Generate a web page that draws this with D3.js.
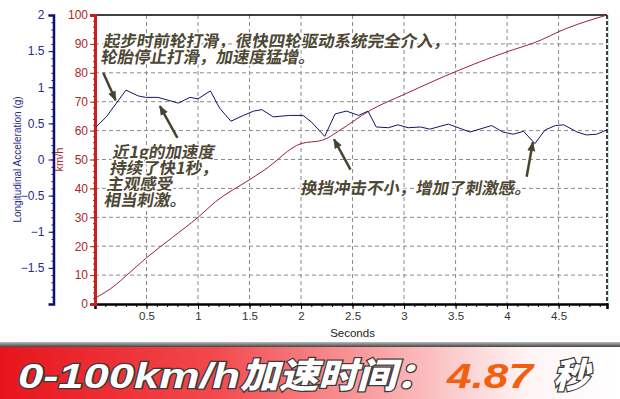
<!DOCTYPE html>
<html>
<head>
<meta charset="utf-8">
<script src="https://cdn.jsdelivr.net/npm/d3@7"></script>
<style>
  body { margin: 0; background: #fff; }
  svg { display: block; }
  .tick text { font-family: "Liberation Sans", Arial, sans-serif; font-size: 12px; }
  .note { font-family: "Noto Sans CJK SC", sans-serif; font-weight: 700; font-size: 16.5px;
          fill: #4d4733; stroke: #fff; stroke-width: 3px; paint-order: stroke; stroke-linejoin: round; }
</style>
</head>
<body>
<div id="chart"></div>
<script>
// speed curve (km/h) vs time (s)
const speedTime  = [0, 0.2, 0.3, 0.5, 0.75, 1.0, 1.17, 1.5, 1.65, 2.0, 2.21, 2.38, 2.67, 3.0, 3.54, 4.06, 4.25, 4.58, 4.97];
const speedValue = [2, 6.6, 9.7, 16, 23, 30, 35.4, 43, 46.5, 55.5, 56.7, 60.2, 67, 72.5, 81, 88, 90.2, 95.4, 100];

// longitudinal acceleration (g) vs time (s)
const accTime  = [0.01, 0.11, 0.30, 0.42, 0.49, 0.61, 0.81, 0.92, 1.0, 1.12, 1.21, 1.32, 1.44, 1.54, 1.62, 1.73, 1.89, 2.02, 2.10, 2.23, 2.33, 2.44, 2.56, 2.65, 2.73, 2.85, 2.94, 3.04, 3.16, 3.25, 3.43, 3.64, 3.85, 3.96, 4.06, 4.16, 4.27, 4.37, 4.47, 4.55, 4.68, 4.77, 4.87, 4.97];
const accValue = [0.45, 0.59, 0.96, 0.88, 0.86, 0.86, 0.78, 0.86, 0.84, 0.95, 0.71, 0.53, 0.61, 0.67, 0.69, 0.59, 0.61, 0.61, 0.52, 0.32, 0.63, 0.67, 0.61, 0.67, 0.45, 0.44, 0.48, 0.44, 0.45, 0.42, 0.49, 0.38, 0.47, 0.38, 0.35, 0.39, 0.22, 0.41, 0.47, 0.48, 0.38, 0.34, 0.35, 0.41];

const timeTicks  = [0.5, 1, 1.5, 2, 2.5, 3, 3.5, 4, 4.5];
const speedTicks = [0, 10, 20, 30, 40, 50, 60, 70, 80, 90, 100];
const accTicks   = [-1.5, -1, -0.5, 0, 0.5, 1, 1.5, 2];

const notes = [
  { x: 103, y: 47, lines: ["起步时前轮打滑，很快四轮驱动系统完全介入，", "轮胎停止打滑，加速度猛增。"] },
  { x: 112, y: 158, lines: ["近1g的加速度", "持续了快1秒，", "主观感受", "相当刺激。"] },
  { x: 300, y: 194, lines: ["换挡冲击不小，增加了刺激感。"] }
];
// arrows in [time, km/h] coordinates: tail -> head
const arrows = [
  [[0.08, 80], [0.2, 70.5]],
  [[0.8, 57.5], [0.63, 68.5]],
  [[2.48, 46.5], [2.32, 57]],
  [[4.19, 44], [4.25, 56]]
];

const width = 620, height = 399;
const plotL = 95, plotR = 607, plotT = 15, plotB = 304;

const svg = d3.select("#chart").append("svg")
  .attr("width", width).attr("height", height);

const x = d3.scaleLinear().domain([0, 4.97]).range([plotL, plotR]);
const ySpeed = d3.scaleLinear().domain([0, 100]).range([plotB, plotT]);
const yAcc = d3.scaleLinear().domain([-2, 2]).range([plotB, plotT]);

// grid
svg.append("g").selectAll("line").data(timeTicks).join("line")
  .attr("x1", d => x(d)).attr("x2", d => x(d)).attr("y1", plotT).attr("y2", plotB)
  .attr("stroke", "#8a8a8a").attr("stroke-dasharray", "4,3");
svg.append("g").selectAll("line").data(speedTicks.filter(d => d > 0 && d < 100)).join("line")
  .attr("x1", plotL).attr("x2", plotR).attr("y1", d => ySpeed(d)).attr("y2", d => ySpeed(d))
  .attr("stroke", "#8a8a8a").attr("stroke-dasharray", "4,3");

// frame
svg.append("line").attr("x1", plotL).attr("x2", plotR).attr("y1", plotT).attr("y2", plotT)
  .attr("stroke", "#000").attr("stroke-width", 1.5);
svg.append("line").attr("x1", plotR).attr("x2", plotR).attr("y1", plotT).attr("y2", plotB)
  .attr("stroke", "#000").attr("stroke-width", 1.5).attr("stroke-dasharray", "4,2");
svg.append("line").attr("x1", plotR + 1.5).attr("x2", plotR + 1.5).attr("y1", plotT).attr("y2", plotB)
  .attr("stroke", "#cdeef2").attr("stroke-width", 1);

// x axis
const xAxis = svg.append("g").attr("transform", `translate(0,${plotB})`)
  .call(d3.axisBottom(x).tickValues(timeTicks).tickSize(5).tickPadding(3).tickFormat(d3.format("")));
xAxis.select(".domain").attr("stroke", "#000").attr("stroke-width", 2.5);
xAxis.selectAll(".tick text").attr("fill", "#333").style("font-size", "11.5px");
svg.append("g").attr("transform", `translate(0,${plotB})`)
  .call(d3.axisBottom(x).tickValues(d3.range(0.1, 4.95, 0.1)).tickSize(3).tickFormat(""))
  .call(g => g.select(".domain").remove());
svg.append("text").attr("x", x(2.5)).attr("y", 337).attr("text-anchor", "middle")
  .attr("font-family", "Liberation Sans, Arial, sans-serif").attr("font-size", 11.5).attr("fill", "#222")
  .text("Seconds");

// speed axis (red)
const sAxis = svg.append("g").attr("transform", `translate(${plotL},0)`)
  .call(d3.axisLeft(ySpeed).tickValues(speedTicks).tickSize(5).tickPadding(2));
sAxis.select(".domain").attr("stroke", "#cc1f1f").attr("stroke-width", 3);
sAxis.selectAll(".tick line").attr("stroke", "#b02020");
sAxis.selectAll(".tick text").attr("fill", "#a62a2a");
svg.append("g").attr("transform", `translate(${plotL},0)`)
  .call(d3.axisLeft(ySpeed).tickValues(d3.range(2, 100, 2)).tickSize(2).tickFormat(""))
  .call(g => g.select(".domain").remove())
  .selectAll("line").attr("stroke", "#b02020");
svg.append("text").attr("transform", `translate(63,${ySpeed(50)}) rotate(-90)`)
  .attr("text-anchor", "middle").attr("font-family", "Liberation Sans, Arial, sans-serif")
  .attr("font-size", 11).attr("fill", "#a62a2a").text("km/h");

// acceleration axis (blue)
const aAxisX = 53.5;
const aAxis = svg.append("g").attr("transform", `translate(${aAxisX},0)`)
  .call(d3.axisLeft(yAcc).tickValues(accTicks).tickSize(5).tickPadding(4).tickFormat(d3.format("")));
aAxis.select(".domain").attr("stroke", "#101070").attr("stroke-width", 2.5);
aAxis.selectAll(".tick line").attr("stroke", "#101070");
aAxis.selectAll(".tick text").attr("fill", "#2a2a8a");
svg.append("g").attr("transform", `translate(${aAxisX},0)`)
  .call(d3.axisLeft(yAcc).tickValues(d3.range(-1.9, 2, 0.1)).tickSize(2).tickFormat(""))
  .call(g => g.select(".domain").remove())
  .selectAll("line").attr("stroke", "#101070");
svg.append("text").attr("transform", `translate(21,${yAcc(0)}) rotate(-90)`)
  .attr("text-anchor", "middle").attr("font-family", "Liberation Sans, Arial, sans-serif")
  .attr("font-size", 10).attr("fill", "#2a2a8a").text("Longitudinal Acceleration (g)");

// series
const speedData = speedTime.map((t, i) => [t, speedValue[i]]);
const accData = accTime.map((t, i) => [t, accValue[i]]);

svg.append("path").datum(speedData)
  .attr("fill", "none").attr("stroke", "#9c2236").attr("stroke-width", 1)
  .attr("d", d3.line().x(d => x(d[0])).y(d => ySpeed(d[1])).curve(d3.curveMonotoneX));
svg.append("path").datum(accData)
  .attr("fill", "none").attr("stroke", "#141466").attr("stroke-width", 1)
  .attr("d", d3.line().x(d => x(d[0])).y(d => yAcc(d[1])));

// annotations
notes.forEach(n => {
  const t = svg.append("text").attr("class", "note")
    .attr("transform", `translate(${n.x},${n.y}) skewX(-10)`);
  n.lines.forEach((l, i) => {
    t.append("tspan").attr("x", 0).attr("y", i * 16).text(l);
  });
});

const defs = svg.append("defs");
defs.append("marker").attr("id", "head")
  .attr("viewBox", "0 0 10 10").attr("refX", 9).attr("refY", 5)
  .attr("markerWidth", 4).attr("markerHeight", 4).attr("orient", "auto")
  .append("path").attr("d", "M0,1 L10,5 L0,9 Z").attr("fill", "#4a4230");

svg.append("g").selectAll("line").data(arrows).join("line")
  .attr("x1", d => x(d[0][0])).attr("y1", d => ySpeed(d[0][1]))
  .attr("x2", d => x(d[1][0])).attr("y2", d => ySpeed(d[1][1]))
  .attr("stroke", "#4a4230").attr("stroke-width", 2.5)
  .attr("marker-end", "url(#head)");

// banner
const grad = defs.append("linearGradient").attr("id", "bannerGrad");
grad.append("stop").attr("offset", "0%").attr("stop-color", "#e8141c");
grad.append("stop").attr("offset", "35%").attr("stop-color", "#f24a4e");
grad.append("stop").attr("offset", "85%").attr("stop-color", "#fff4f4");
grad.append("stop").attr("offset", "100%").attr("stop-color", "#ffffff");
const topGrad = defs.append("linearGradient").attr("id", "bannerTop")
  .attr("x1", 0).attr("x2", 0).attr("y1", 0).attr("y2", 1);
topGrad.append("stop").attr("offset", "0%").attr("stop-color", "#bbbbbb");
topGrad.append("stop").attr("offset", "100%").attr("stop-color", "#444444");

svg.append("rect").attr("x", 0).attr("y", 347).attr("width", width).attr("height", 52)
  .attr("fill", "url(#bannerGrad)");
svg.append("rect").attr("x", 0).attr("y", 342).attr("width", width).attr("height", 5)
  .attr("fill", "url(#bannerTop)");

const bannerText = [
  { text: "0-100km/h", x: 18, len: 222, fill: "#fff", font: "Liberation Sans, Arial, sans-serif" },
  { text: "加速时间：", x: 240, len: 195, fill: "#fff", font: "Noto Sans CJK SC, sans-serif" },
  { text: "4.87", x: 447, len: 86, fill: "#f2600f", font: "Liberation Sans, Arial, sans-serif" },
  { text: "秒", x: 553, len: 36, fill: "#fff", font: "Noto Sans CJK SC, sans-serif" }
];
svg.append("g").selectAll("text").data(bannerText).join("text")
  .attr("x", d => d.x).attr("y", 388)
  .attr("textLength", d => d.len).attr("lengthAdjust", "spacingAndGlyphs")
  .attr("font-family", d => d.font).attr("font-size", 35).attr("font-weight", 900)
  .attr("font-style", "italic")
  .attr("fill", d => d.fill)
  .attr("stroke", d => d.fill === "#fff" ? "#3a3a3a" : "#fff")
  .attr("stroke-width", d => d.fill === "#fff" ? 2.5 : 0)
  .attr("paint-order", "stroke")
  .text(d => d.text);
</script>
</body>
</html>
